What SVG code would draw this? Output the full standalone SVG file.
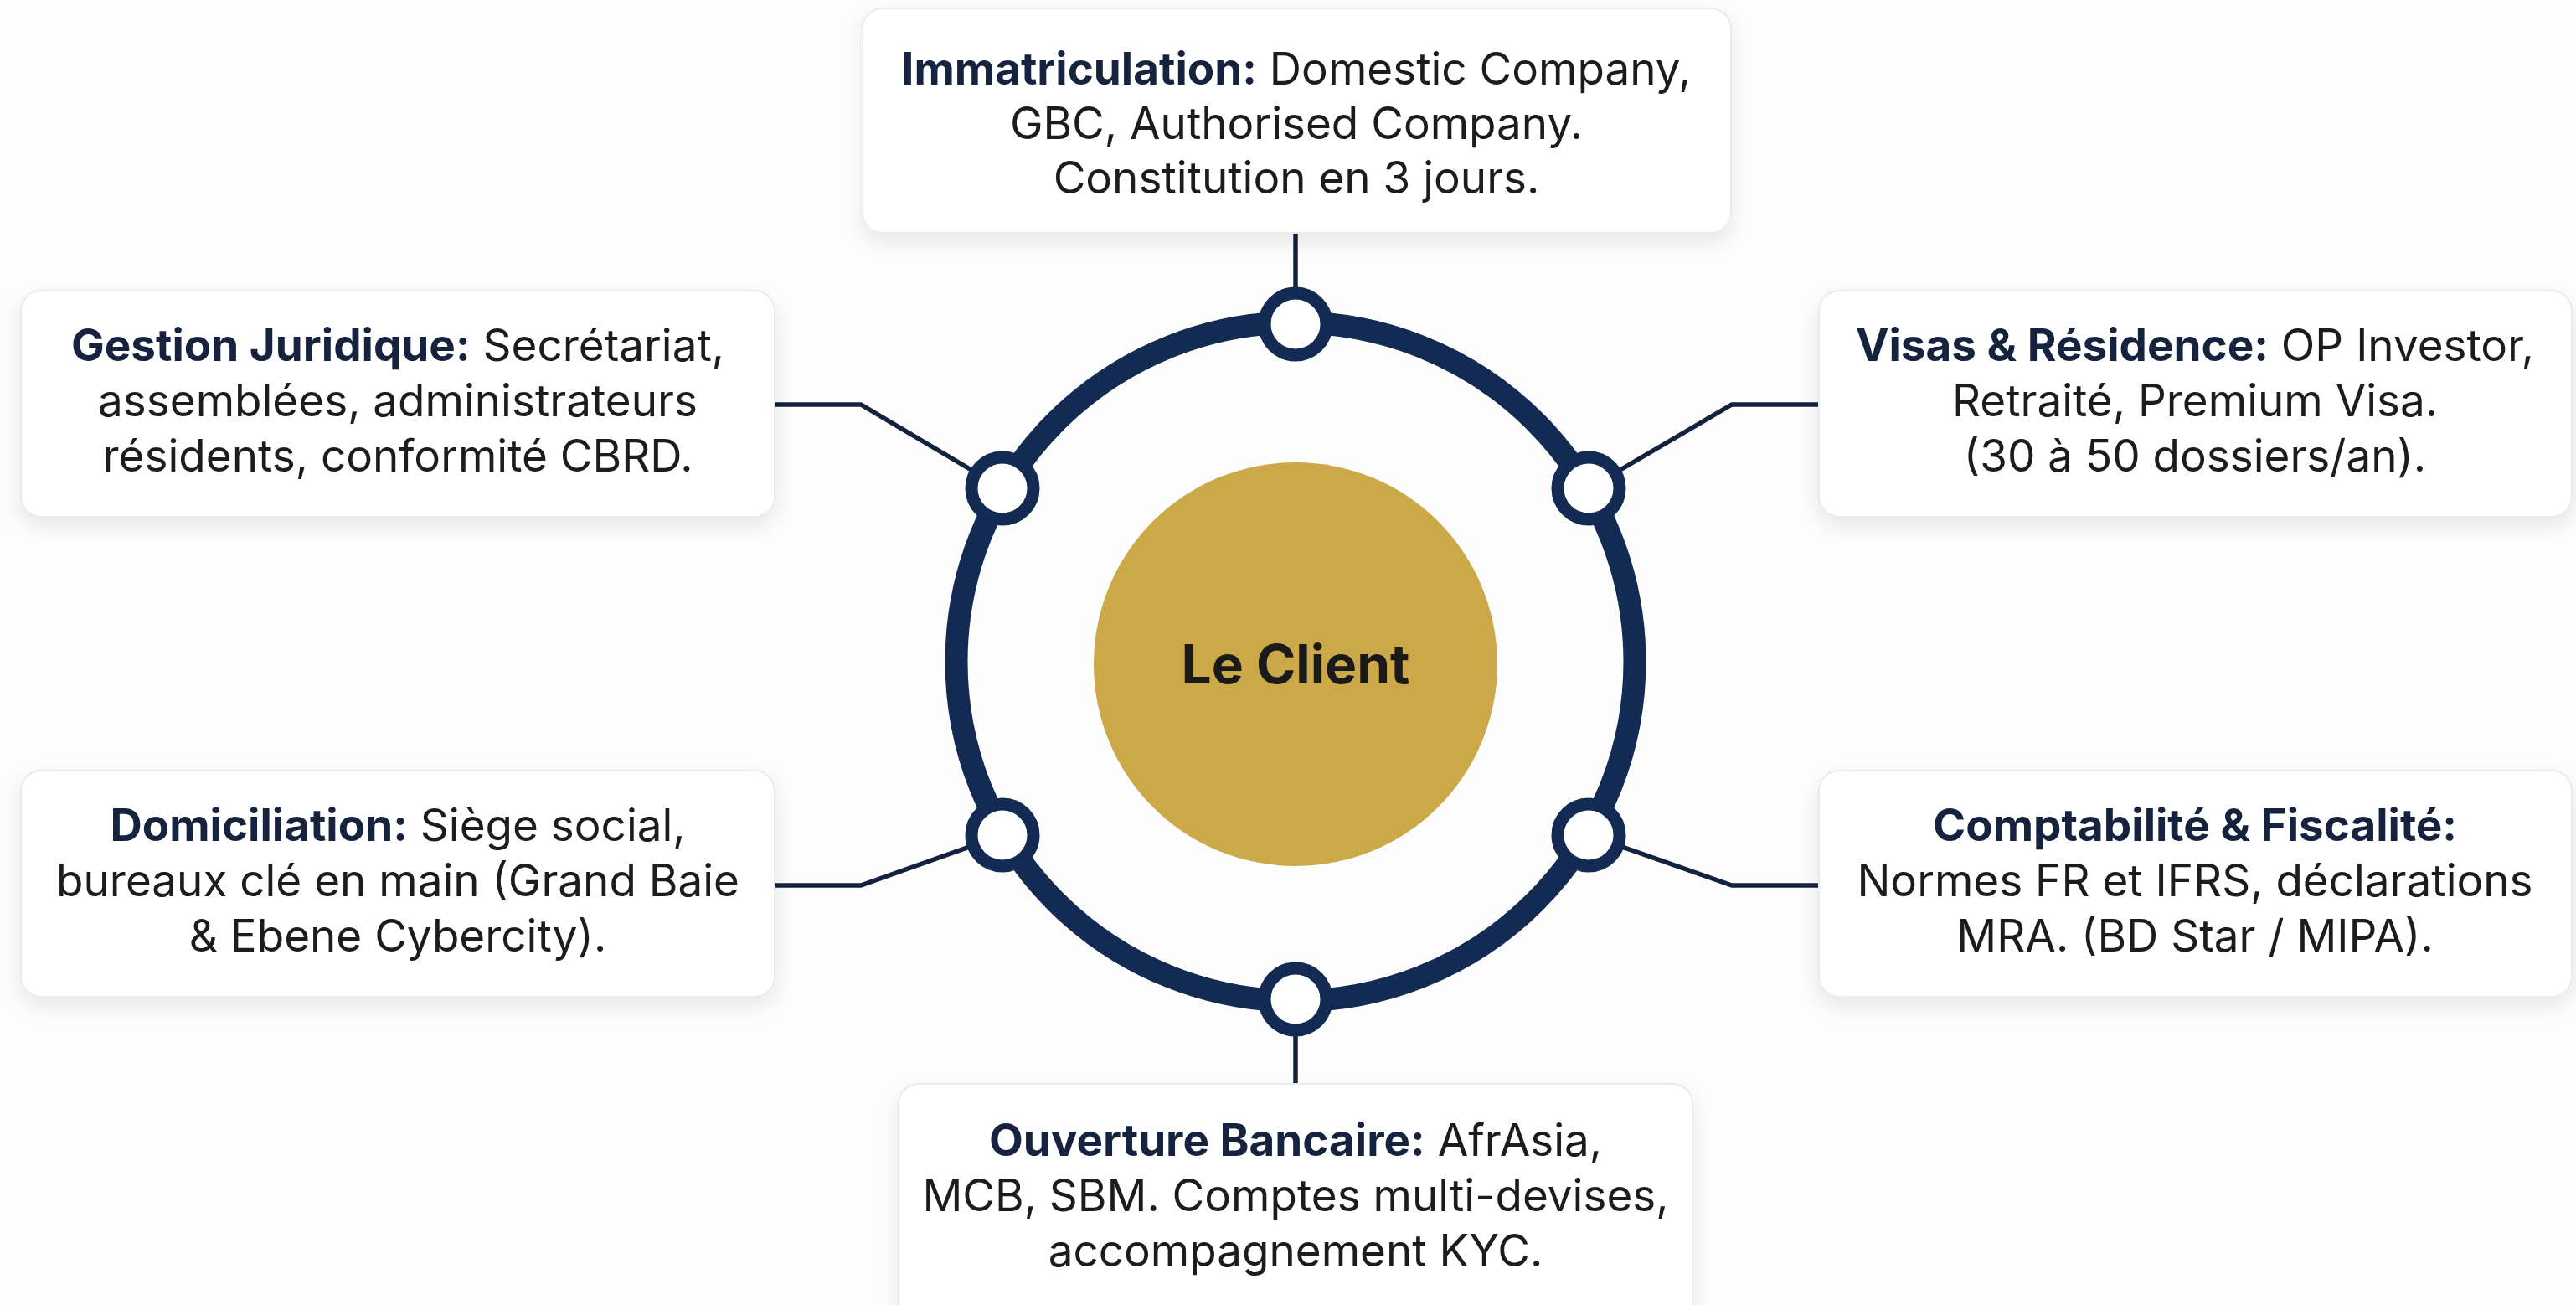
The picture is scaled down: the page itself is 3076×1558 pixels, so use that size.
<svg xmlns="http://www.w3.org/2000/svg" width="3076" height="1558" viewBox="0 0 3076 1558">
<defs>
<filter id="sh" x="-10%" y="-20%" width="120%" height="150%">
<feDropShadow dx="0" dy="10" stdDeviation="12" flood-color="#000" flood-opacity="0.09"/>
</filter>
<style>
.box{fill:#ffffff;stroke:#ebebeb;stroke-width:2;filter:url(#sh)}
.t{font-family:Inter,"Liberation Sans",sans-serif;font-size:53px;fill:#1c1c1c;text-anchor:middle}
.b{font-weight:700;fill:#15233f}
.conn{fill:none;stroke:#13233f;stroke-width:5.5;stroke-linejoin:miter}
.ring{fill:none;stroke:#132a52;stroke-width:27}
.dot{fill:#ffffff;stroke:#132a52;stroke-width:15}
</style>
</defs>
<rect width="3076" height="1558" fill="#fdfdfd"/>
<g id="connectors">
<polyline class="conn" points="1547,278 1547,387"/>
<polyline class="conn" points="1547,1193 1547,1294"/>
<polyline class="conn" points="925,483 1028,483 1197,583"/>
<polyline class="conn" points="2172,483 2068,483 1897,583"/>
<polyline class="conn" points="925,1057 1028,1057 1197,997"/>
<polyline class="conn" points="2172,1057 2068,1057 1897,997"/>
</g>
<g id="hub">
<circle class="ring" cx="1547" cy="790" r="405"/>
<circle class="dot" cx="1547" cy="387" r="37"/>
<circle class="dot" cx="1547" cy="1193" r="37"/>
<circle class="dot" cx="1197" cy="583" r="37"/>
<circle class="dot" cx="1897" cy="583" r="37"/>
<circle class="dot" cx="1197" cy="997" r="37"/>
<circle class="dot" cx="1897" cy="997" r="37"/>
</g>
<g id="client">
<circle cx="1547" cy="793" r="241" fill="#cba948"/>
<text x="1547" y="816" font-family="Inter,'Liberation Sans',sans-serif" font-size="64" font-weight="700" fill="#1a1a1a" text-anchor="middle">Le Client</text>
</g>
<g id="immatriculation">
<rect class="box" x="1030" y="10" width="1037" height="268" rx="24"/>
<text class="t" x="1548" y="101"><tspan class="b">Immatriculation:</tspan> Domestic Company,</text>
<text class="t" x="1548" y="166">GBC, Authorised Company.</text>
<text class="t" x="1548" y="231">Constitution en 3 jours.</text>
</g>
<g id="gestion-juridique">
<rect class="box" x="25" y="347" width="900" height="270" rx="24"/>
<text class="t" x="475" y="431"><tspan class="b">Gestion Juridique:</tspan> Secrétariat,</text>
<text class="t" x="475" y="497">assemblées, administrateurs</text>
<text class="t" x="475" y="563">résidents, conformité CBRD.</text>
</g>
<g id="visas-residence">
<rect class="box" x="2172" y="347" width="899" height="270" rx="24"/>
<text class="t" x="2621" y="431"><tspan class="b">Visas &amp; Résidence:</tspan> OP Investor,</text>
<text class="t" x="2621" y="497">Retraité, Premium Visa.</text>
<text class="t" x="2621" y="563">(30 à 50 dossiers/an).</text>
</g>
<g id="domiciliation">
<rect class="box" x="25" y="920" width="900" height="270" rx="24"/>
<text class="t" x="475" y="1004"><tspan class="b">Domiciliation:</tspan> Siège social,</text>
<text class="t" x="475" y="1070">bureaux clé en main (Grand Baie</text>
<text class="t" x="475" y="1136">&amp; Ebene Cybercity).</text>
</g>
<g id="comptabilite-fiscalite">
<rect class="box" x="2172" y="920" width="899" height="270" rx="24"/>
<text class="t b" x="2621" y="1004">Comptabilité &amp; Fiscalité:</text>
<text class="t" x="2621" y="1070">Normes FR et IFRS, déclarations</text>
<text class="t" x="2621" y="1136">MRA. (BD Star / MIPA).</text>
</g>
<g id="ouverture-bancaire">
<rect class="box" x="1073" y="1294" width="948" height="290" rx="24"/>
<text class="t" x="1547" y="1380"><tspan class="b">Ouverture Bancaire:</tspan> AfrAsia,</text>
<text class="t" x="1547" y="1446">MCB, SBM. Comptes multi-devises,</text>
<text class="t" x="1547" y="1512">accompagnement KYC.</text>
</g>
</svg>
